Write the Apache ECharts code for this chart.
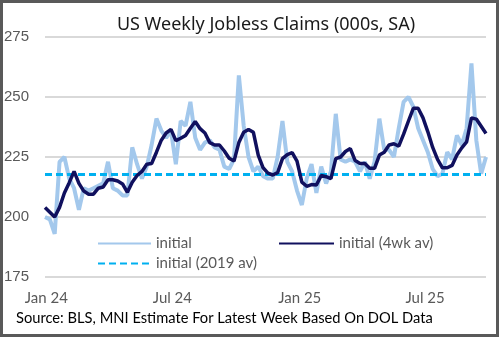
<!DOCTYPE html>
<html><head><meta charset="utf-8">
<script src="https://cdn.jsdelivr.net/npm/echarts@6/dist/echarts.min.js"></script>
<style>html,body{margin:0;padding:0;background:#fff}#c{width:499px;height:337px}</style>
</head><body><div id="c"></div>
<script>
// weekly data, first week ending 30 Dec 2023
const startDate = Date.UTC(2023, 11, 30);
const initial = [200,199,193,223,225,216,212,203,212,211,212,213,214,223,212,211,209,209,229,222,
  216,221,230,241,236,233,236,222,240,238,248,233,228,231,232,229,228,221,220,224,
  259,238,225,219,221,217,216,216,225,240,223,219,211,205,216,222,210,221,214,219,
  243,224,223,224,223,219,223,216,223,241,228,228,225,237,248,250,246,237,232,227,
  220,217,218,227,224,234,230,237,264,232,218,225];
const avg4wk = [204,202,200,204,210,214.3,219,214,210.8,209.5,209.5,212,212.5,215.5,215.5,215,213.8,210.3,214.5,217.3,
  219,222,222.3,227,232,235,236.5,231.8,232.8,234,237,239.8,236.8,235,231,230,230,227.5,224.5,223.3,
  231,235.3,236.5,235.3,225.8,220.5,218.3,217.5,218.5,224.3,226,226.8,223.3,214.5,212.8,213.5,213.3,217.3,216.8,216,
  224.3,225,227.3,228.5,223.5,222.3,222.3,220.3,220.3,225.8,227,230,230.5,229.5,234.5,240,245.3,245.3,241.3,235.5,
  229,224,220.5,220.5,221.5,225.8,228.8,231.3,241.3,240.8,237.8,234.8];
const avg2019 = 217.7;
const seriesNames = ['initial', 'initial (4wk av)', 'initial (2019 av)'];
const tickDates = [Date.UTC(2024,0,1), Date.UTC(2024,6,1), Date.UTC(2025,0,1), Date.UTC(2025,6,1)];
const tickLabels = ['Jan 24', 'Jul 24', 'Jan 25', 'Jul 25'];
const yMin = 175, yMax = 275, yStep = 25;

// x measured in days since startDate
const DAY = 864e5;
const dayOf = t => (t - startDate) / DAY;
const xs = initial.map((_, i) => i * 7);
const xEnd = xs[xs.length - 1];
const tickX = tickDates.map(dayOf);

const chart = echarts.init(document.getElementById('c'), null, {renderer: 'canvas'});
const legendText = {color: '#595959', fontFamily: 'Lato', fontSize: 15};
const legendBase = {padding: 0, itemHeight: 14, textStyle: legendText, itemStyle: {opacity: 0}};
chart.setOption({
  animation: false,
  backgroundColor: '#fff',
  title: {
    text: 'US Weekly Jobless Claims (000s, SA)',
    left: 261, top: 11, textAlign: 'center',
    textStyle: {fontFamily: 'Noto Sans', fontSize: 18, fontWeight: 'normal', color: '#1a1a1a'}
  },
  grid: {left: 45, right: 13, top: 37, bottom: 60, containLabel: false},
  xAxis: {
    type: 'value', min: 0, max: xEnd,
    axisLine: {show: false}, axisTick: {show: false}, splitLine: {show: false},
    axisLabel: {
      customValues: tickX, margin: 14,
      color: '#595959', fontFamily: 'Lato', fontSize: 15,
      formatter: v => { let best = 0; tickX.forEach((d, i) => { if (Math.abs(d - v) < Math.abs(tickX[best] - v)) best = i; }); return tickLabels[best]; }
    }
  },
  yAxis: {
    type: 'value', min: yMin, max: yMax, interval: yStep,
    axisLine: {show: false}, axisTick: {show: false},
    axisLabel: {color: '#595959', fontFamily: 'Liberation Sans', fontSize: 15, margin: 16},
    splitLine: {lineStyle: {color: '#d9d9d9', width: 2}}
  },
  legend: [
    Object.assign({data: [seriesNames[0]], left: 97, top: 236, itemWidth: 53}, legendBase),
    Object.assign({data: [seriesNames[1]], left: 278, top: 236, itemWidth: 55}, legendBase),
    Object.assign({data: [seriesNames[2]], left: 97, top: 256, itemWidth: 53}, legendBase)
  ],
  series: [
    {name: seriesNames[0], type: 'line', symbol: 'none', z: 2,
     data: xs.map((x, i) => [x, initial[i]]),
     lineStyle: {color: '#a3c8ec', width: 4}, itemStyle: {color: '#a3c8ec'}},
    {name: seriesNames[1], type: 'line', symbol: 'none', z: 4,
     data: xs.map((x, i) => [x, avg4wk[i]]),
     lineStyle: {color: '#10105e', width: 3.5}, itemStyle: {color: '#10105e'}},
    {name: seriesNames[2], type: 'line', symbol: 'none', z: 3,
     data: [[0, avg2019], [xEnd, avg2019]],
     lineStyle: {color: '#00b0f0', width: 3, type: [7, 4]}, itemStyle: {color: '#00b0f0'}}
  ],
  graphic: [
    {type: 'text', left: 16, top: 311, z: 10,
     style: {text: 'Source: BLS, MNI Estimate For Latest Week Based On DOL Data', fill: '#000', font: '14.7px Lato'}},
    {type: 'rect', z: 20, silent: true,
     shape: {x: 1.5, y: 1.5, width: 496, height: 334},
     style: {fill: 'none', stroke: '#595959', lineWidth: 3}}
  ]
});
</script></body></html>
